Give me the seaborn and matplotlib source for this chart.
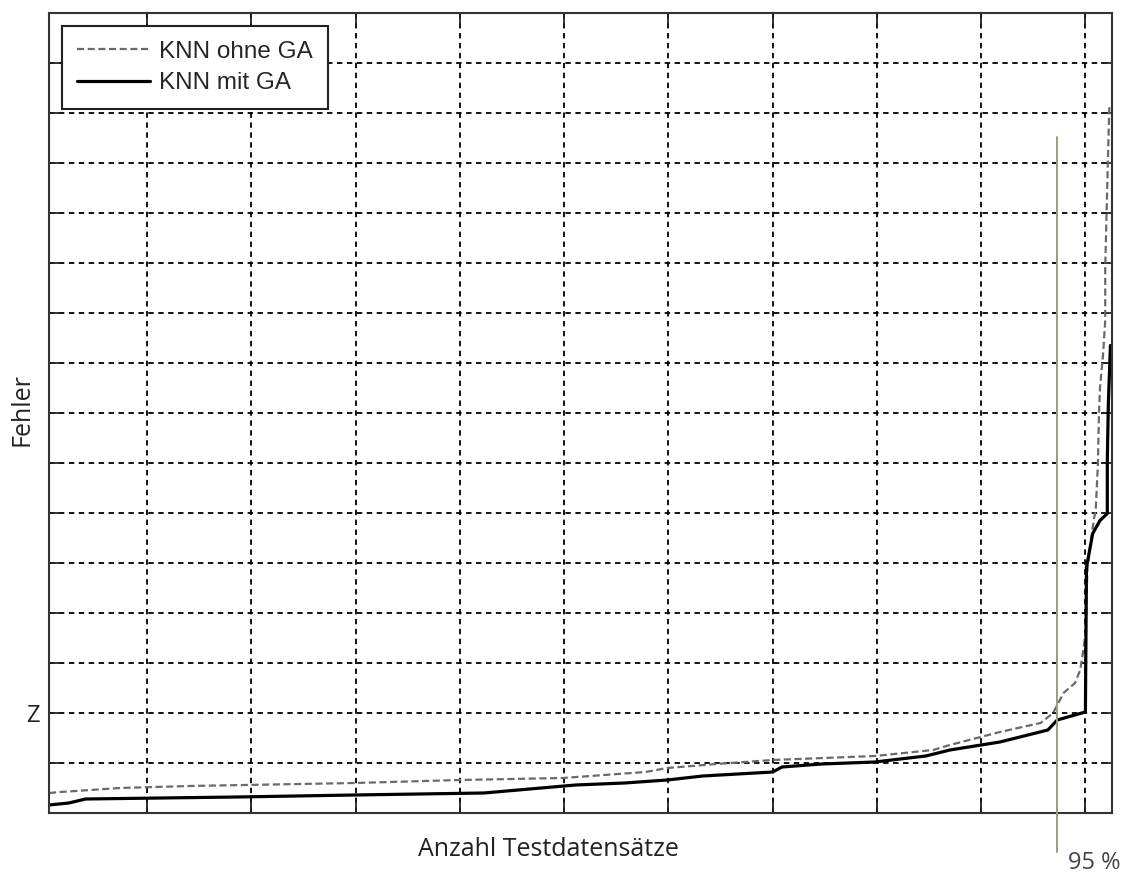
import numpy as np
import pandas as pd
import matplotlib
matplotlib.use("Agg")
import matplotlib.pyplot as plt
from matplotlib.lines import Line2D
import seaborn as sns

# Sorted prediction errors over the test records (breakpoints of each curve)
anzahl_ohne = [6, 17, 74, 141, 299, 400, 499, 578, 599, 646, 700, 798, 854, 870,
               918, 957, 969, 979, 990, 995, 997, 1000, 1002, 1007, 1010, 1012,
               1013, 1014, 1017, 1019, 1019, 1021, 1023]
fehler_ohne = [0.40, 0.42, 0.50, 0.54, 0.60, 0.66, 0.70, 0.82, 0.90, 0.98, 1.06,
               1.14, 1.26, 1.36, 1.62, 1.80, 2.00, 2.40, 2.60, 2.86, 3.12, 3.56,
               4.91, 5.71, 6.11, 6.99, 7.99, 8.51, 9.19, 9.85, 10.91, 12.58, 14.18]

anzahl_mit = [6, 25, 41, 186, 299, 423, 511, 558, 599, 633, 700, 709, 747, 798,
              847, 870, 918, 964, 973, 1000, 1001, 1007, 1014, 1021, 1021, 1022,
              1024]
fehler_mit = [0.16, 0.20, 0.28, 0.32, 0.36, 0.40, 0.56, 0.60, 0.66, 0.74, 0.82,
              0.92, 0.98, 1.02, 1.14, 1.26, 1.42, 1.66, 1.86, 2.02, 4.91, 5.59,
              5.85, 5.99, 7.05, 8.19, 9.35]

modelle = ["KNN ohne GA", "KNN mit GA"]
grenze_95 = 973          # record index at 95 % of the test data
z_wert = 2               # error threshold Z
x_ticks = [100, 200, 300, 400, 500, 600, 700, 800, 900, 1000]
y_ticks = list(range(1, 16))

df = pd.DataFrame({
    "Anzahl": anzahl_ohne + anzahl_mit,
    "Fehler": fehler_ohne + fehler_mit,
    "Modell": [modelle[0]] * len(anzahl_ohne) + [modelle[1]] * len(anzahl_mit),
})

sns.set_style("white")
plt.rcParams["font.family"] = ["Open Sans", "DejaVu Sans"]

fig = plt.figure(figsize=(11.3, 8.75), dpi=100)
ax = fig.add_axes([49 / 1130, 1 - 813 / 875, 1063 / 1130, 800 / 875])

farben = {modelle[0]: "#6a6a6a", modelle[1]: "#000000"}
striche = {modelle[0]: (3.2, 1.6), modelle[1]: ""}
breiten = {modelle[0]: 1.6, modelle[1]: 2.3}

for m in modelle:
    sns.lineplot(data=df[df["Modell"] == m], x="Anzahl", y="Fehler",
                 estimator=None, sort=False, color=farben[m],
                 linewidth=breiten[m], dashes=False, legend=False, ax=ax)
# apply dash pattern to the dashed series
ax.lines[0].set_dashes(striche[modelle[0]])

ax.set_xlim(6, 1025.5)
ax.set_ylim(0, 16)
ax.set_xticks(x_ticks)
ax.set_xticklabels([""] * len(x_ticks))
ax.set_yticks(y_ticks)
ax.set_yticklabels(["Z" if t == z_wert else "" for t in y_ticks])

ax.grid(True, color="black", linestyle=(0, (3, 2.5)), linewidth=1.3)
ax.set_axisbelow(True)
ax.tick_params(axis="both", which="both", direction="in", length=8, width=1.3,
               top=True, right=True, bottom=True, left=True, colors="#222222",
               labelsize=17, pad=7)
for s in ax.spines.values():
    s.set_visible(True)
    s.set_color("#333333")
    s.set_linewidth(1.5)

# 95 % marker line, extending below the axes
ax.axvline(grenze_95, ymin=-0.049, ymax=0.845, color="#9c9c80", linewidth=1.4,
           clip_on=False, zorder=5)
ax.text(grenze_95 + 10, -0.047, "95 %", transform=ax.get_xaxis_transform(),
        ha="left", va="top", fontsize=17, color="#444444")

ax.set_xlabel("Anzahl Testdatensätze", fontsize=18, color="#222222")
ax.set_ylabel("Fehler", fontsize=18, color="#222222")
ax.xaxis.label.set_va("center")
ax.yaxis.label.set_va("center")
ax.xaxis.set_label_coords(0.47, -0.046)
ax.yaxis.set_label_coords(-0.0254, 0.504)

handles = [Line2D([], [], color=farben[m], linewidth=breiten[m],
                  dashes=striche[m] if striche[m] else (None, None)) for m in modelle]
handles[1].set_linestyle("-")
leg = ax.legend(handles, modelle, loc="upper left",
                bbox_to_anchor=(13 / 1063, 1 - 13 / 800), borderaxespad=0,
                fancybox=False, framealpha=1, edgecolor="#222222",
                prop={"family": ["Liberation Sans"], "size": 17.5},
                handlelength=3.0, handletextpad=0.4, labelspacing=0.4,
                borderpad=0.6)
leg.get_frame().set_linewidth(1.5)

fig.savefig("out.png", dpi=100)
